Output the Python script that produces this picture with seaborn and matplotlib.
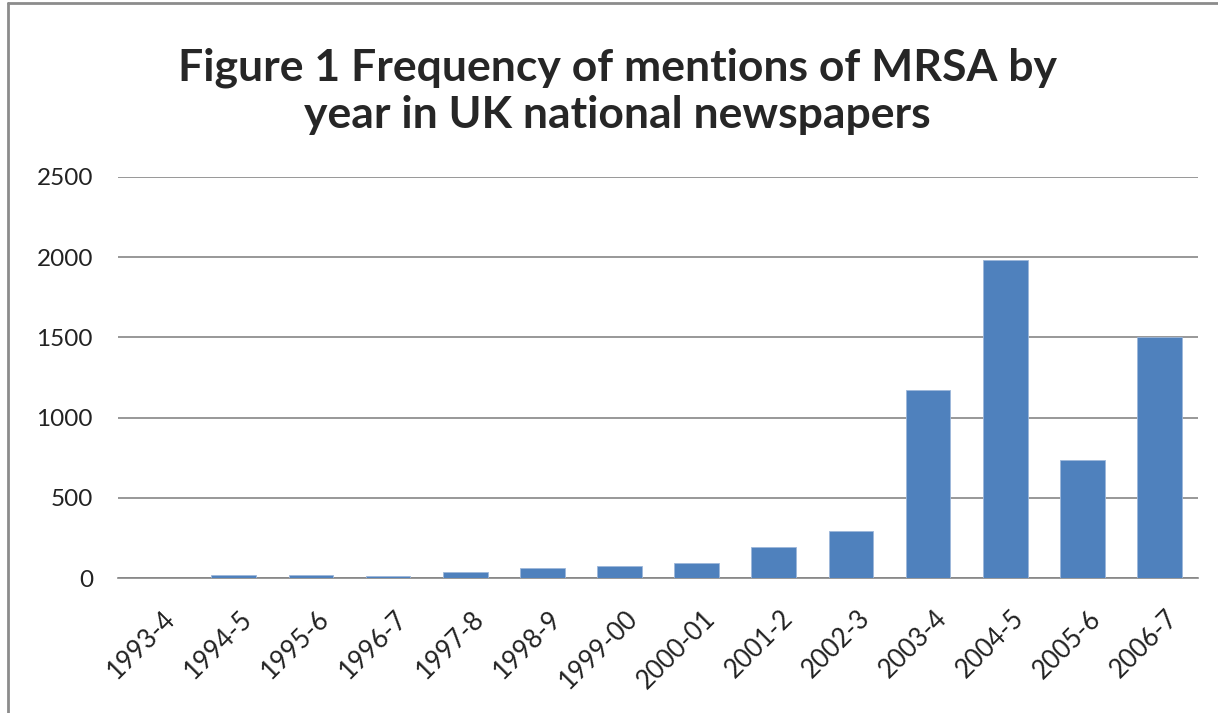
import numpy as np
import pandas as pd
import seaborn as sns
import matplotlib.pyplot as plt
from matplotlib.lines import Line2D
from matplotlib.transforms import ScaledTranslation

# data
years = ['1993-4', '1994-5', '1995-6', '1996-7', '1997-8', '1998-9', '1999-00',
         '2000-01', '2001-2', '2002-3', '2003-4', '2004-5', '2005-6', '2006-7']
mentions = [2, 19, 19, 12, 37, 60, 76, 93, 194, 294, 1173, 1985, 735, 1504]
y_ticks = [0, 500, 1000, 1500, 2000, 2500]

df = pd.DataFrame({'Year': years, 'Mentions': mentions})

sns.set_style('white')
plt.rcParams['font.family'] = ['Lato', 'DejaVu Sans']

fig = plt.figure(figsize=(12.18, 7.13), dpi=100)
ax = fig.add_axes([0.0969, 0.1893, 0.8867, 0.5625])

ax.grid(True, axis='y', color='#868686', linewidth=1.2, zorder=0)
ax.set_axisbelow(True)

sns.barplot(data=df, x='Year', y='Mentions', color='#4F81BD', width=0.58,
            saturation=1, edgecolor='#9DB7DA', linewidth=0.6, ax=ax, zorder=3)

ax.set_xlim(-0.5, len(years) - 0.5)
ax.set_ylim(0, 2500)
ax.set_yticks(y_ticks)
ax.set_xlabel('')
ax.set_ylabel('')

for s in ['top', 'right', 'left']:
    ax.spines[s].set_visible(False)
ax.spines['bottom'].set_color('#868686')
ax.spines['bottom'].set_linewidth(1.2)

ax.tick_params(axis='both', length=0, colors='#222222')
ax.tick_params(axis='y', pad=18, labelsize=17.5)
ax.tick_params(axis='x', pad=20, labelsize=18.5)
plt.setp(ax.get_xticklabels(), rotation=45, ha='right', rotation_mode='anchor')
# nudge the rotated labels a little to the right, like Excel places them
shift = ScaledTranslation(6 / 100, 0, fig.dpi_scale_trans)
for lbl in ax.get_xticklabels():
    lbl.set_transform(lbl.get_transform() + shift)

fig.text(0.507, 0.872, 'Figure 1 Frequency of mentions of MRSA by\nyear in UK national newspapers',
         ha='center', va='center', fontsize=32, fontweight='bold', linespacing=1.2)

# outer chart frame (cut off at right and bottom in the reference)
fig.add_artist(Line2D([0.0066, 0.0066], [0, 0.996], color='#8c8c8c', linewidth=2, transform=fig.transFigure))
fig.add_artist(Line2D([0.0066, 1], [0.996, 0.996], color='#8c8c8c', linewidth=2, transform=fig.transFigure))

fig.savefig('out.png', dpi=100)
